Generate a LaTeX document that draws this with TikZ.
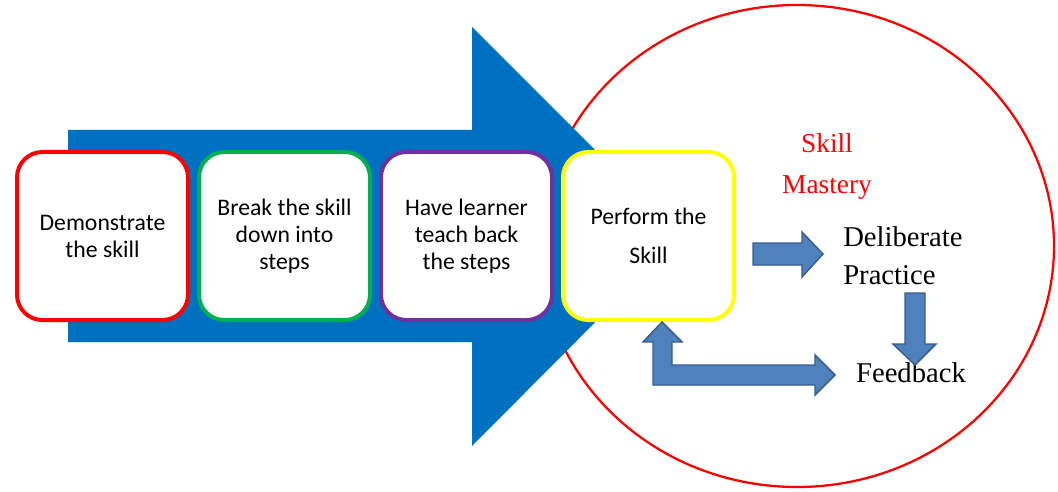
\documentclass[tikz,border=0pt]{standalone}
\usepackage{fontspec}
\setmainfont{Liberation Serif}
\setsansfont{Carlito}
\usetikzlibrary{positioning}

\begin{document}
\begin{tikzpicture}[x=0.75pt,y=-0.75pt,node distance=5.25pt]
    \definecolor{myblue}{RGB}{0,112,192}
    \definecolor{myred}{RGB}{255,0,0}
    \definecolor{mygreen}{RGB}{0,176,80}
    \definecolor{mypurple}{RGB}{112,48,160}
    \definecolor{myyellow}{RGB}{255,255,0}
    \definecolor{mysteel}{RGB}{79,129,189}
    \definecolor{mysteeld}{RGB}{56,93,138}

    \useasboundingbox (0,0) rectangle (1058,492);

    \tikzstyle{stepbox}=[rectangle,rounded corners=19pt,draw,line width=3pt,fill=white,
        minimum width=128.25pt,minimum height=126pt,align=center,
        font=\sffamily\fontsize{17.8}{20.25}\selectfont]  % the four step boxes
    \tikzstyle{blockarrow}=[fill=mysteel,draw=mysteeld,line width=1.1pt,line join=miter]
    \tikzstyle{label}=[inner sep=0pt,font=\fontsize{21.5}{28.5}\selectfont]

    % mastery circle, behind everything
    \draw[myred,line width=1.7pt] (797,246) ellipse [x radius=192.75pt,y radius=180.75pt];

    % big blue arrow
    \fill[myblue] (68,130) -- (472,130) -- (472,27) -- (681,236) -- (472,446)
        -- (472,342) -- (68,342) -- cycle;

    % steps
    \node[stepbox,draw=myred](demo) at (102.5,236){Demonstrate\\the skill};
    \node[stepbox,draw=mygreen,right=of demo](breakdown){Break the skill\\down into\\steps};
    \node[stepbox,draw=mypurple,right=of breakdown](teachback){Have learner\\teach back\\the steps};
    \node[stepbox,draw=myyellow,right=of teachback](perform){Perform the\\[9pt]Skill};

    % texts inside the circle
    \node[label,text=myred,align=center,font=\fontsize{20.5}{30.75}\selectfont](mastery) at (827,166){Skill\\Mastery};
    \node[label,align=left,anchor=west](practice) at (843,256){Deliberate\\Practice};
    \node[label](feedback) at (911,373){Feedback};

    % small arrows
    \draw[blockarrow] (753,243) -- (802,243) -- (802,232) -- (823,254) -- (802,277)
        -- (802,265) -- (753,265) -- cycle;
    \draw[blockarrow] (905,293) -- (925,293) -- (925,344) -- (936,344) -- (915,365)
        -- (893,344) -- (905,344) -- cycle;
    \draw[blockarrow] (662,322) -- (682,342) -- (672,342) -- (672,365) -- (815,365)
        -- (815,355) -- (835,375) -- (815,395) -- (815,385) -- (653,385) -- (653,342)
        -- (643,342) -- cycle;
\end{tikzpicture}
\end{document}
